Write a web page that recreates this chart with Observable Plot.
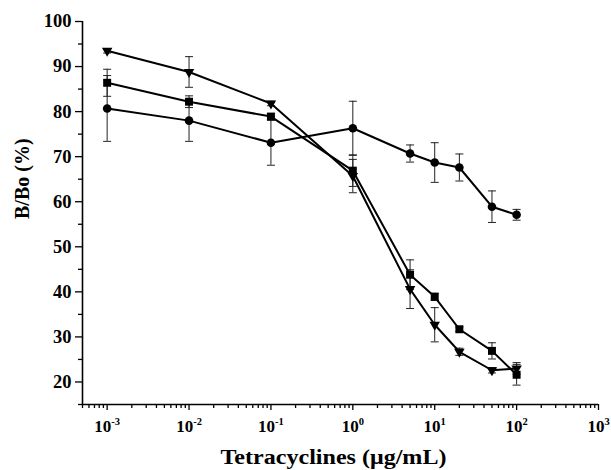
<!DOCTYPE html>
<html><head><meta charset="utf-8">
<script src="https://cdn.jsdelivr.net/npm/d3@7"></script>
<script src="https://cdn.jsdelivr.net/npm/@observablehq/plot@0.6"></script>
<style>body{margin:0;background:#fff} #chart{width:611px;height:470px}</style>
</head><body><div id="chart"></div>
<script>
// ---- data ----
const conc = [0.001, 0.01, 0.1, 1, 5, 10, 20, 50, 100];
const circleVals   = [80.7, 78.0, 73.1, 76.3, 70.7, 68.7, 67.6, 58.9, 57.1];
const circleErr    = [7.3, 4.6, 5.0, 6.0, 1.9, 4.4, 3.0, 3.5, 1.2];
const squareVals   = [86.4, 82.2, 78.9, 66.9, 43.8, 38.9, 31.7, 26.9, 21.6];
const squareErr    = [3.0, 1.3, 0.6, 3.5, 3.3, 0.8, 0.5, 1.8, 2.3];
const triangleVals = [93.5, 88.8, 81.8, 65.7, 40.6, 32.7, 26.7, 22.6, 23.0];
const triangleErr  = [0.5, 3.4, 0.5, 3.7, 4.3, 3.8, 0.8, 0.6, 1.3];
const xMajor = [1e-3, 1e-2, 1e-1, 1, 10, 100, 1000];
const xExp   = ["-3", "-2", "-1", "0", "1", "2", "3"];
const yMajor = [20, 30, 40, 50, 60, 70, 80, 90, 100];
const yMinor = [15, 25, 35, 45, 55, 65, 75, 85, 95];
const xTitle = "Tetracyclines (\u03bcg/mL)";
const yTitle = "B/Bo (%)";

// ---- tables ----
function rows(vals, errs, s) { return conc.map((x, i) => ({x, y: vals[i], err: errs[i], s})); }
const circ = rows(circleVals, circleErr, "circle");
const sq = rows(squareVals, squareErr, "square");
const tri = rows(triangleVals, triangleErr, "triangle");
const all = [...circ, ...sq, ...tri];
const caps = all.flatMap(d => [{x: d.x, y: d.y - d.err}, {x: d.x, y: d.y + d.err}]);
const xMinor = [];
for (let e = -4; e <= 2; e++) for (let m = 2; m <= 9; m++) {
  const v = m * Math.pow(10, e);
  if (v >= 5e-4 && v < 1000) xMinor.push(v);
}
const capSymbol = {draw(ctx) { ctx.moveTo(-4, 0); ctx.lineTo(4, 0); }};

const font = "'Liberation Serif', 'Times New Roman', serif";
const chart = Plot.plot({
  width: 611, height: 470,
  marginLeft: 82, marginRight: 13, marginTop: 21, marginBottom: 66,
  style: {fontFamily: font, fontWeight: "bold", fontSize: "17px", color: "black", background: "white"},
  x: {type: "log", domain: [5e-4, 1000]},
  y: {domain: [15, 100]},
  marks: [
    Plot.axisY({ticks: yMajor, tickSize: 7, tickPadding: 4, fontSize: 18.5, label: null, strokeWidth: 1.3}),
    Plot.axisY({ticks: yMinor, tickSize: 4, tickFormat: () => "", label: null, strokeWidth: 1.3}),
    Plot.axisX({ticks: xMajor, tickSize: 6, tickPadding: 9, fontSize: 17, label: null, strokeWidth: 1.3,
      tickFormat: d => xExp[xMajor.findIndex(v => Math.abs(Math.log10(v) - Math.log10(d)) < 1e-6)]}),
    Plot.axisX({ticks: xMinor, tickSize: 4, tickFormat: () => "", label: null, strokeWidth: 1.3}),
    Plot.ruleX([5e-4], {strokeWidth: 1.6}),
    Plot.ruleY([15], {strokeWidth: 1.6}),
    Plot.ruleX(all, {x: "x", y1: d => d.y - d.err, y2: d => d.y + d.err, stroke: "#222", strokeWidth: 1}),
    Plot.dot(caps, {x: "x", y: "y", symbol: capSymbol, stroke: "#222", fill: "none", strokeWidth: 1}),
    Plot.line(all, {x: "x", y: "y", z: "s", stroke: "black", strokeWidth: 2}),
    Plot.dot(circ, {x: "x", y: "y", r: 4.3, fill: "black", stroke: "none"}),
    Plot.dot(sq, {x: "x", y: "y", symbol: "square", r: 4.5, fill: "black", stroke: "none"}),
    Plot.dot(tri, {x: "x", y: "y", symbol: "triangle", r: 3.9, rotate: 180, fill: "black", stroke: "none"}),
    Plot.text([xTitle], {frameAnchor: "bottom", dx: -7, dy: 53.5, fontSize: 20, lineAnchor: "middle", fontWeight: "bold"}),
    Plot.text([yTitle], {frameAnchor: "left", dx: -60, dy: 6, rotate: -90, fontSize: 20, lineAnchor: "middle", fontWeight: "bold"})
  ]
});
document.getElementById("chart").appendChild(chart);

// superscript exponents on x tick labels
chart.querySelectorAll('g[aria-label="x-axis tick label"] text').forEach(t => {
  const exp = t.textContent;
  if (!exp) return;
  t.textContent = "";
  const base = document.createElementNS("http://www.w3.org/2000/svg", "tspan");
  base.textContent = "10";
  const sup = document.createElementNS("http://www.w3.org/2000/svg", "tspan");
  sup.textContent = exp;
  sup.setAttribute("dy", "-7");
  sup.setAttribute("font-size", "10.5");
  t.appendChild(base); t.appendChild(sup);
});
// widen x title to the reference's width
chart.querySelectorAll("text").forEach(t => {
  if (t.textContent === xTitle) { t.setAttribute("textLength", "226"); t.setAttribute("lengthAdjust", "spacingAndGlyphs"); }
});
</script>
</body></html>
